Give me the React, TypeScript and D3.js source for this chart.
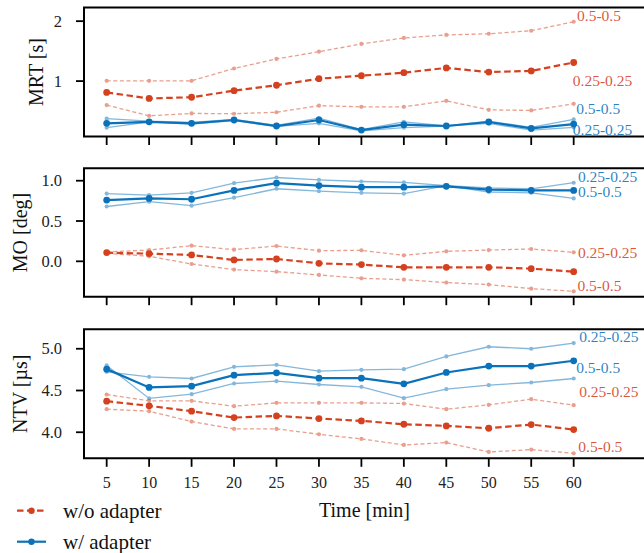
import React from "react";
import * as d3 from "d3";

const times = [5, 10, 15, 20, 25, 30, 35, 40, 45, 50, 55, 60];

// MRT [s]
const mrtWoMain = [0.81, 0.71, 0.73, 0.84, 0.93, 1.04, 1.09, 1.14, 1.22, 1.15, 1.17, 1.31];
const mrtWoA = [1.005, 1.005, 1.005, 1.21, 1.37, 1.49, 1.62, 1.72, 1.77, 1.79, 1.84, 1.99];
const mrtWoB = [0.6, 0.42, 0.46, 0.455, 0.48, 0.59, 0.57, 0.57, 0.67, 0.52, 0.51, 0.62];
const mrtWMain = [0.295, 0.32, 0.295, 0.35, 0.25, 0.35, 0.183, 0.272, 0.25, 0.317, 0.21, 0.283];
const mrtWA = [0.372, 0.33, 0.31, 0.36, 0.26, 0.383, 0.19, 0.32, 0.25, 0.33, 0.227, 0.36];
const mrtWB = [0.222, 0.32, 0.28, 0.34, 0.245, 0.295, 0.17, 0.222, 0.25, 0.295, 0.18, 0.228];

// MO [deg]
const moWMain = [0.76, 0.78, 0.77, 0.88, 0.97, 0.94, 0.92, 0.92, 0.93, 0.89, 0.88, 0.88];
const moWA = [0.84, 0.82, 0.85, 0.97, 1.04, 1.01, 0.99, 0.98, 0.94, 0.91, 0.9, 0.975];
const moWB = [0.68, 0.74, 0.69, 0.79, 0.9, 0.87, 0.85, 0.84, 0.94, 0.86, 0.85, 0.78];
const moWoMain = [0.107, 0.095, 0.079, 0.017, 0.029, -0.025, -0.041, -0.074, -0.074, -0.074, -0.091, -0.128];
const moWoA = [0.116, 0.14, 0.194, 0.145, 0.19, 0.132, 0.136, 0.074, 0.124, 0.14, 0.153, 0.112];
const moWoB = [0.099, 0.062, -0.033, -0.103, -0.128, -0.169, -0.211, -0.227, -0.264, -0.289, -0.339, -0.372];

// NTV [µs]
const ntvWMain = [4.756, 4.537, 4.552, 4.684, 4.712, 4.648, 4.648, 4.58, 4.716, 4.792, 4.792, 4.856];
const ntvWA = [4.724, 4.664, 4.644, 4.784, 4.808, 4.732, 4.748, 4.756, 4.908, 5.024, 5.0, 5.068];
const ntvWB = [4.8, 4.405, 4.456, 4.584, 4.612, 4.572, 4.544, 4.408, 4.516, 4.564, 4.596, 4.644];
const ntvWoMain = [4.372, 4.316, 4.252, 4.176, 4.196, 4.164, 4.136, 4.096, 4.076, 4.048, 4.092, 4.032];
const ntvWoA = [4.452, 4.376, 4.376, 4.312, 4.352, 4.352, 4.352, 4.344, 4.276, 4.328, 4.396, 4.324];
const ntvWoB = [4.276, 4.252, 4.128, 4.04, 4.04, 3.976, 3.92, 3.848, 3.876, 3.764, 3.792, 3.748];

const xTicks = [5, 10, 15, 20, 25, 30, 35, 40, 45, 50, 55, 60];
const mrtTicks = [1, 2];
const moTicks = [0.0, 0.5, 1.0];
const ntvTicks = [4.0, 4.5, 5.0];

const RED = "#d5411e";
const BLUE = "#0a72ba";
const FONT = "'Liberation Serif', 'DejaVu Serif', serif";

type Ann = { text: string; color: string; x: number; y: number };
type Panel = {
  label: string;
  labelX: number;
  top: number;
  bottom: number;
  domain: [number, number];
  ticks: number[];
  fmt: (v: number) => string;
  wo: number[][];
  w: number[][];
  anns: Ann[];
};

const panels: Panel[] = [
  {
    label: "MRT [s]",
    labelX: 43,
    top: 7.5,
    bottom: 136.5,
    domain: [0.075, 2.228],
    ticks: mrtTicks,
    fmt: (v) => d3.format("d")(v),
    wo: [mrtWoMain, mrtWoA, mrtWoB],
    w: [mrtWMain, mrtWA, mrtWB],
    anns: [
      { text: "0.5-0.5", color: RED, x: 60.4, y: 2.1 },
      { text: "0.25-0.25", color: RED, x: 59.9, y: 1.017 },
      { text: "0.5-0.5", color: BLUE, x: 60.3, y: 0.55 },
      { text: "0.25-0.25", color: BLUE, x: 59.9, y: 0.2 },
    ],
  },
  {
    label: "MO [deg]",
    labelX: 26.5,
    top: 168.3,
    bottom: 296.7,
    domain: [-0.439, 1.154],
    ticks: moTicks,
    fmt: (v) => d3.format(".1f")(v),
    wo: [moWoMain, moWoA, moWoB],
    w: [moWMain, moWA, moWB],
    anns: [
      { text: "0.25-0.25", color: BLUE, x: 60.5, y: 1.058 },
      { text: "0.5-0.5", color: BLUE, x: 60.5, y: 0.864 },
      { text: "0.25-0.25", color: RED, x: 60.5, y: 0.107 },
      { text: "0.5-0.5", color: RED, x: 60.45, y: -0.294 },
    ],
  },
  {
    label: "NTV [µs]",
    labelX: 26.5,
    top: 329.3,
    bottom: 458.3,
    domain: [3.688, 5.233],
    ticks: ntvTicks,
    fmt: (v) => d3.format(".1f")(v),
    wo: [ntvWoMain, ntvWoA, ntvWoB],
    w: [ntvWMain, ntvWA, ntvWB],
    anns: [
      { text: "0.25-0.25", color: BLUE, x: 60.65, y: 5.144 },
      { text: "0.5-0.5", color: BLUE, x: 60.3, y: 4.772 },
      { text: "0.25-0.25", color: RED, x: 60.65, y: 4.49 },
      { text: "0.5-0.5", color: RED, x: 60.55, y: 3.832 },
    ],
  },
];

const LEFT = 84;
const RIGHT = 645;
const x = d3.scaleLinear().domain([2.33, 68.4]).range([LEFT, RIGHT]);

function Series({
  vals,
  y,
  color,
  main,
  dashed,
}: {
  vals: number[];
  y: d3.ScaleLinear<number, number>;
  color: string;
  main: boolean;
  dashed: boolean;
}) {
  const line = d3
    .line<number>()
    .x((_, i) => x(times[i]))
    .y((v) => y(v));
  const op = main ? 1 : 0.5;
  return (
    <g opacity={op}>
      <path
        d={line(vals) || ""}
        fill="none"
        stroke={color}
        strokeWidth={main ? 2.2 : 1.3}
        strokeDasharray={dashed ? (main ? "6.5,3.5" : "4,2.6") : undefined}
      />
      {vals.map((v, i) => (
        <circle key={i} cx={x(times[i])} cy={y(v)} r={main ? 3.4 : 2.1} fill={color} />
      ))}
    </g>
  );
}

function PanelView({ p, last }: { p: Panel; last: boolean }) {
  const y = d3.scaleLinear().domain(p.domain).range([p.bottom, p.top]);
  const mid = (p.top + p.bottom) / 2;
  return (
    <g>
      <Series vals={p.wo[1]} y={y} color={RED} main={false} dashed />
      <Series vals={p.wo[2]} y={y} color={RED} main={false} dashed />
      <Series vals={p.w[1]} y={y} color={BLUE} main={false} dashed={false} />
      <Series vals={p.w[2]} y={y} color={BLUE} main={false} dashed={false} />
      <Series vals={p.wo[0]} y={y} color={RED} main dashed />
      <Series vals={p.w[0]} y={y} color={BLUE} main dashed={false} />
      {p.anns.map((a, i) => (
        <text
          key={i}
          x={x(a.x)}
          y={y(a.y)}
          fill={a.color}
          fillOpacity={0.88}
          fontSize={15.5}
          fontFamily={FONT}
          dominantBaseline="central"
        >
          {a.text}
        </text>
      ))}
      <path
        d={`M${RIGHT},${p.top}H${LEFT}V${p.bottom}H${RIGHT}`}
        fill="none"
        stroke="#000"
        strokeWidth={2}
      />
      <line x1={RIGHT} x2={RIGHT} y1={p.top} y2={p.bottom} stroke="#000" strokeWidth={2} />
      {p.ticks.map((t) => (
        <g key={t}>
          <line x1={LEFT - 8} x2={LEFT} y1={y(t)} y2={y(t)} stroke="#000" strokeWidth={1.8} />
          <text
            x={LEFT - 22}
            y={y(t)}
            textAnchor="end"
            dominantBaseline="central"
            fontSize={16.5}
            fontFamily={FONT}
            fill="#222"
          >
            {p.fmt(t)}
          </text>
        </g>
      ))}
      {xTicks.map((t) => (
        <g key={t}>
          <line x1={x(t)} x2={x(t)} y1={p.bottom} y2={p.bottom + 8.5} stroke="#000" strokeWidth={1.8} />
          {last && (
            <text
              x={x(t)}
              y={487.5}
              textAnchor="middle"
              fontSize={16}
              fontFamily={FONT}
              fill="#222"
            >
              {t}
            </text>
          )}
        </g>
      ))}
      <text
        transform={`translate(${p.labelX},${mid}) rotate(-90)`}
        textAnchor="middle"
        fontSize={20}
        fontFamily={FONT}
        fill="#111"
      >
        {p.label}
      </text>
    </g>
  );
}

const legendItems = [
  { label: "w/o adapter", color: RED, dashed: true, y: 510.7 },
  { label: "w/ adapter", color: BLUE, dashed: false, y: 541.7 },
];

export default function App() {
  return (
    <svg
      width={644}
      height={553}
      style={{ position: "absolute", left: 0, top: 0, background: "#fff" }}
    >
      <rect width={644} height={553} fill="#fff" />
      {panels.map((p, i) => (
        <PanelView key={i} p={p} last={i === panels.length - 1} />
      ))}
      <text x={(LEFT + RIGHT) / 2} y={517} textAnchor="middle" fontSize={20} fontFamily={FONT} fill="#111">
        Time [min]
      </text>
      {legendItems.map((l) => (
        <g key={l.label}>
          <line
            x1={17}
            x2={46}
            y1={l.y}
            y2={l.y}
            stroke={l.color}
            strokeWidth={2.2}
            strokeDasharray={l.dashed ? "6.5,3.5" : undefined}
          />
          <circle cx={31.5} cy={l.y} r={3.2} fill={l.color} />
          <text x={63} y={l.y + 7} fontSize={21} fontFamily={FONT} fill="#111">
            {l.label}
          </text>
        </g>
      ))}
    </svg>
  );
}
